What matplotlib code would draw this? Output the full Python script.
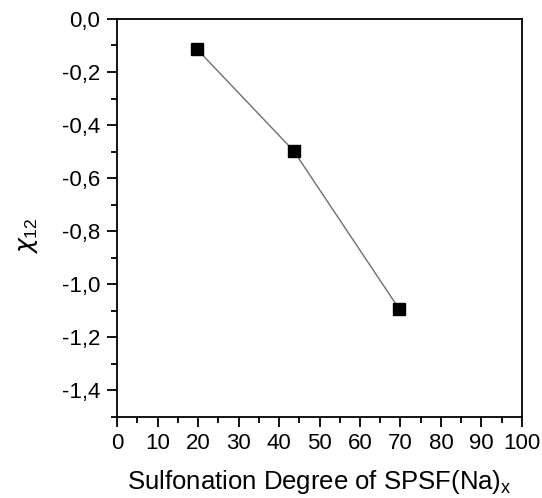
import matplotlib
matplotlib.use('Agg')
import matplotlib.pyplot as plt
from matplotlib.ticker import MultipleLocator, FuncFormatter

plt.rcParams['font.family'] = ['Liberation Sans', 'DejaVu Sans']
plt.rcParams['mathtext.fontset'] = 'custom'
plt.rcParams['mathtext.rm'] = 'Liberation Sans'

# data
degree = [19.8, 43.6, 69.7]
chi12 = [-0.115, -0.497, -1.094]


def comma(v, pos):
    return ('%.1f' % v).replace('.', ',').replace('-0,0', '0,0')


fig = plt.figure(figsize=(5.42, 4.98), dpi=100)
ax = fig.add_axes([0.216, 0.163, 0.747, 0.799])
ax.plot(degree, chi12, color='#707070', lw=1.0, zorder=1)
ax.plot(degree, chi12, 's', color='black', ms=9, zorder=2)

ax.set_xlim(0, 100)
ax.set_ylim(-1.5, 0)
ax.xaxis.set_major_locator(MultipleLocator(10))
ax.xaxis.set_minor_locator(MultipleLocator(5))
ax.yaxis.set_major_locator(MultipleLocator(0.2))
ax.yaxis.set_minor_locator(MultipleLocator(0.1))
ax.yaxis.set_major_formatter(FuncFormatter(comma))
ax.tick_params(which='major', direction='out', length=7, width=1.3, labelsize=16, pad=5)
ax.tick_params(which='minor', direction='out', length=4, width=1.3)
for s in ax.spines.values():
    s.set_linewidth(1.3)

ax.set_xlabel('Sulfonation Degree of SPSF(Na)$_{\\mathregular{x}}$', fontsize=18.5, labelpad=10)
ax.set_ylabel('$\\chi_{\\mathregular{12}}$', fontsize=18)
ax.yaxis.set_label_coords(-0.19, 0.455)

fig.savefig('out.png', dpi=100)
